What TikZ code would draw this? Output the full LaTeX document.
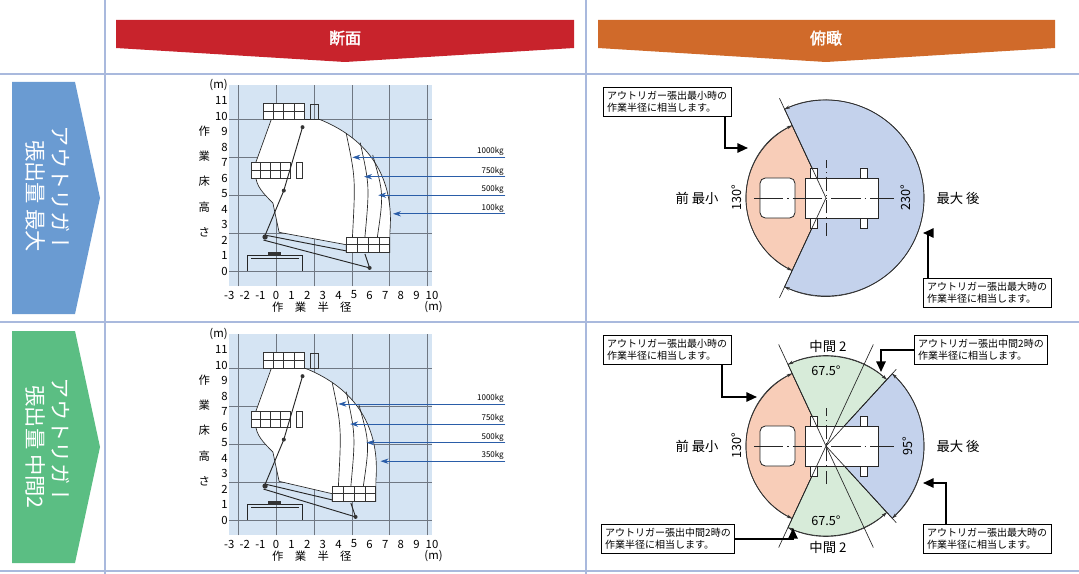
\documentclass[tikz,border=0pt]{standalone}
\usepackage{fontspec}
\setmainfont{Noto Sans CJK JP}
\newfontfamily\jpb[FakeBold=2]{Noto Sans CJK JP}
\newfontfamily\jpv[Vertical=RotatedGlyphs]{Noto Sans CJK JP}
\usetikzlibrary{arrows.meta, positioning}
\definecolor{hdrred}{HTML}{C8232C}
\definecolor{hdrorange}{HTML}{D06A2A}
\definecolor{tabblue}{HTML}{6A9BD2}
\definecolor{tabgreen}{HTML}{5BBE83}
\definecolor{gridbg}{HTML}{D5E4F3}
\definecolor{gridln}{HTML}{6F7782}
\definecolor{loadblue}{HTML}{2A5DA8}
\definecolor{rulec}{HTML}{A9B9DD}
\definecolor{minpink}{HTML}{F8CDB8}
\definecolor{midgreen}{HTML}{D7EBD9}
\definecolor{maxblue}{HTML}{C4D2EC}
\tikzset{
  rule/.style={draw=rulec, line width=0.8pt},
  gridc/.style={draw=gridln, line width=0.5pt},
  thin line/.style={draw=black!85, line width=0.5pt},
  loadarr/.style={draw=loadblue, line width=0.6pt, -{Stealth[length=6pt,width=4pt]}},
  callout/.style={draw=black, line width=0.6pt, fill=white, font=\fontsize{7.5}{9}\selectfont, align=left, inner sep=3pt},
  callarr/.style={draw=black, line width=1.4pt, -{Triangle[length=8pt,width=7pt]}},
  dimarc/.style={draw=black!80, line width=0.5pt, {Stealth[length=4pt,width=2.5pt]}-{Stealth[length=4pt,width=2.5pt]}},
  num/.style={font=\fontsize{8.5}{9}\selectfont, inner sep=1pt},
  kg/.style={font=\fontsize{6}{7}\selectfont, inner sep=1pt, anchor=south east},
}
% lift chart; #1 = shift of the reach on the right side
\newcommand\liftchart[1]{
  \fill[gridbg] (-3,-1) rectangle (10,12);
  \draw[gridc] (-3,-1) grid (10,12);
  \foreach \v in {0,...,11} \node[num, anchor=east] at (-3,\v) {\v};
  \foreach \v in {-3,...,10} \node[num] at (\v,-1.55) {\v};
  \node[num, anchor=east] at (-3,12) {(m)};
  \node[num] at (10.1,-2.35) {(m)};
  \node[num] at (2.3,-2.35) {作\quad 業\quad 半\quad 径};
  \node[num, align=center, font=\fontsize{8.5}{19}\selectfont] at (-4.6,5.8) {作\\業\\床\\高\\さ};
  \filldraw[fill=white, thin line] (0.2,2.5) -- (-0.2,4.4) .. controls (-0.8,5) and (-1.3,5.5) .. (-1.3,6.2)
    -- (-1.3,7) -- (-0.3,9.8) -- ({2.8+#1},9.8) .. controls ({6+#1},8.5) and ({7.6+#1},6) .. ({7.3+#1},2.5)
    -- ({7.3+#1},1.2) -- ({4.5+#1},1.2) -- ({4.5+#1},1.7) -- cycle;
  \draw[thin line] ({4.5+#1},8.9) .. controls ({5.1+#1},6) .. ({4.9+#1},2.2);
  \draw[thin line] ({5.4+#1},8.3) .. controls ({6.0+#1},5.5) .. ({5.7+#1},2.2);
  \draw[thin line] ({6.2+#1},7.5) .. controls ({6.9+#1},5) .. ({6.5+#1},2.2);
  % platforms
  \foreach \px/\py/\pw in {-0.8/9.8/2.6, -1.6/6/2.5, {4.5+#1}/1.2/2.8} {
    \filldraw[fill=white, draw=black!80, line width=0.7pt] (\px,\py) rectangle ++(\pw,1);
    \draw[black!80, line width=0.5pt] (\px,\py+0.5) -- ++(\pw,0);
    \foreach \k in {0.25,0.5,0.75} \draw[black!80, line width=0.5pt] (\px+\k*\pw,\py) -- ++(0,1);
  }
  \draw[black!80, line width=0.6pt] (2.2,9.8) rectangle (2.7,10.8) (1.3,6) rectangle (1.7,7);
  % boom and base
  \draw[black!85, line width=0.7pt] (-0.7,2.3) -- (0.5,5.2) -- (1.7,9.3) (-0.8,2.0) -- ({6+#1},0.2) -- ({5.7+#1},1.1);
  \draw[black!85, line width=0.7pt] (-0.6,2.3) -- ({4.5+#1},1.3);
  \fill[black!80] (-0.7,2.2) circle (2pt) (0.5,5.2) circle (1.5pt) (1.7,9.3) circle (1.5pt) ({6+#1},0.2) circle (1.5pt);
  \draw[black!85, line width=0.7pt] (-1.8,0) -- (-1.8,1) -- (1.7,1) -- (1.7,0) (-1.6,0.8) -- (1.5,0.8);
  \fill[black!80] (-0.5,1) rectangle (0.3,1.25);
}
% plan view vehicle
\newcommand\planvehicle{
  \draw[black!85, line width=0.6pt, fill=white] (-21,-20) rectangle (52,20);
  \draw[black!85, line width=0.6pt, fill=white, rounded corners=4pt] (-66,-20) rectangle (-31,20);
  \draw[black!85, line width=0.6pt, fill=white] (-16,20) rectangle (-9,30) (-16,-20) rectangle (-9,-30)
    (34,20) rectangle (41,30) (34,-20) rectangle (41,-30);
  \draw[black!85, line width=0.5pt, dash pattern=on 22pt off 3pt on 1pt off 3pt] (-72,0) -- (68,0);
  \draw[black!85, line width=0.5pt, dash pattern=on 10pt off 3pt on 1pt off 3pt] (0,-38) -- (0,38);
}
\begin{document}
\begin{tikzpicture}[x=0.75pt, y=-0.75pt]
\useasboundingbox (0,0) rectangle (1079,574);
% table rules
\draw[rule] (105,0) -- (105,574) (586,0) -- (586,574);
\draw[rule] (0,74) -- (1079,74) (0,322) -- (1079,322) (0,571) -- (1079,571);
% headers
\fill[hdrred] (116,20) -- (574,20) -- (574,48) -- (345,62) -- (116,48) -- cycle;
\node[text=white, font=\jpb\fontsize{12}{12}\selectfont] (hdrcut) at (345,38) {断面};
\fill[hdrorange] (598,20) -- (1055,20) -- (1055,48) -- (826,62) -- (598,48) -- cycle;
\node[text=white, font=\jpb\fontsize{12}{12}\selectfont] (hdrplan) at (826,38) {俯瞰};
% row tabs
\fill[tabblue] (12,82) -- (75,82) -- (100,198) -- (75,314) -- (12,314) -- cycle;
\node[text=white, rotate=-90, font=\jpv\fontsize{16}{16}\selectfont] (tabmaxa) at (61,190) {アウトリガー};
\node[text=white, rotate=-90, font=\jpv\fontsize{16}{16}\selectfont] (tabmaxb) at (36,196) {張出量 最大};
\fill[tabgreen] (12,331) -- (75,331) -- (100,447) -- (75,563) -- (12,563) -- cycle;
\node[text=white, rotate=-90, font=\jpv\fontsize{16}{16}\selectfont] (tabmida) at (61,442) {アウトリガー};
\node[text=white, rotate=-90, font=\jpv\fontsize{16}{16}\selectfont] (tabmidb) at (36,447) {張出量 中間2};
% charts
\begin{scope}[shift={(276,271)}, x=11.7pt, y=11.6pt]
  \liftchart{0}
  \foreach \ly/\lx/\lt in {7.35/4.9/1000kg, 6.1/5.65/750kg, 4.9/6.55/500kg, 3.7/7.5/100kg} {
    \coordinate (ls) at (14.7,\ly);
    \coordinate (le) at (\lx,\ly);
    \draw[loadarr] (ls) -- (le);
    \node[kg] at (ls) {\lt};
  }
\end{scope}
\begin{scope}[shift={(276,520)}, x=11.7pt, y=11.6pt]
  \liftchart{-0.9}
  \foreach \ly/\lx/\lt in {7.5/4.0/1000kg, 6.2/4.75/750kg, 5.0/5.8/500kg, 3.8/6.7/350kg} {
    \coordinate (ls) at (14.7,\ly);
    \coordinate (le) at (\lx,\ly);
    \draw[loadarr] (ls) -- (le);
    \node[kg] at (ls) {\lt};
  }
\end{scope}
% plan view, maximum
\begin{scope}[shift={(826,198)}, y=0.75pt]
  \filldraw[fill=minpink, draw=black!85, line width=0.5pt] (0,0) -- (115:80) arc[start angle=115, end angle=245, radius=80] -- cycle;
  \filldraw[fill=maxblue, draw=black!85, line width=0.5pt] (0,0) -- (-115:98) arc[start angle=-115, end angle=115, radius=98] -- cycle;
  \draw[dimarc] (-115:98) arc[start angle=-115, end angle=115, radius=98];
  \draw[dimarc] (115:80) arc[start angle=115, end angle=245, radius=80];
  \planvehicle
  \draw[black!85, line width=0.5pt] (0,0) -- (115:110) (0,0) -- (-115:110);
  \node[rotate=90, font=\fontsize{9.5}{10}\selectfont] (angmax) at (80,0) {230°};
  \node[rotate=90, font=\fontsize{9.5}{10}\selectfont] (angmin) at (-89,0) {130°};
  \node[font=\fontsize{10}{10}\selectfont] (lblfront) at (-129,0) {前\ 最小};
  \node[font=\fontsize{10}{10}\selectfont] (lblrear) at (132,0) {最大\ 後};
  \coordinate (tipmin) at (-78,50);
  \coordinate (tipmax) at (97,-35);
\end{scope}
\node[callout] (boxmin) at (667,102) {アウトリガー張出最小時の\\作業半径に相当します。};
\node[callout] (boxmax) at (987,293) {アウトリガー張出最大時の\\作業半径に相当します。};
\draw[callarr] (boxmin.south -| 725,0) |- (tipmin);
\draw[callarr] (boxmax.north -| 928,0) |- (tipmax);
% plan view, intermediate
\begin{scope}[shift={(826,446)}, y=0.75pt]
  \filldraw[fill=minpink, draw=black!85, line width=0.5pt] (0,0) -- (115:80) arc[start angle=115, end angle=245, radius=80] -- cycle;
  \filldraw[fill=midgreen, draw=black!85, line width=0.5pt] (0,0) -- (47.5:90) arc[start angle=47.5, end angle=115, radius=90] -- cycle;
  \filldraw[fill=midgreen, draw=black!85, line width=0.5pt] (0,0) -- (-115:90) arc[start angle=-115, end angle=-47.5, radius=90] -- cycle;
  \filldraw[fill=maxblue, draw=black!85, line width=0.5pt] (0,0) -- (-47.5:98) arc[start angle=-47.5, end angle=47.5, radius=98] -- cycle;
  \draw[dimarc] (-47.5:98) arc[start angle=-47.5, end angle=47.5, radius=98];
  \draw[dimarc] (47.5:90) arc[start angle=47.5, end angle=115, radius=90];
  \draw[dimarc] (-115:90) arc[start angle=-115, end angle=-47.5, radius=90];
  \draw[dimarc] (115:80) arc[start angle=115, end angle=245, radius=80];
  \planvehicle
  \draw[black!85, line width=0.5pt] (115:112) -- (-65:112) (-115:112) -- (65:112);
  \draw[black!85, line width=0.5pt] (0,0) -- (47.5:104) (0,0) -- (-47.5:104);
  \node[rotate=90, font=\fontsize{9.5}{10}\selectfont] (angrear) at (82,0) {95°};
  \node[rotate=90, font=\fontsize{9.5}{10}\selectfont] (angfront) at (-89,0) {130°};
  \node[font=\fontsize{9.5}{10}\selectfont] (angtop) at (0,75) {67.5°};
  \node[font=\fontsize{9.5}{10}\selectfont] (angbot) at (0,-75) {67.5°};
  \node[font=\fontsize{10}{10}\selectfont] (midtop) at (2,100) {中間 2};
  \node[font=\fontsize{10}{10}\selectfont] (midbot) at (2,-101) {中間 2};
  \node[font=\fontsize{10}{10}\selectfont] (lblfront2) at (-129,0) {前\ 最小};
  \node[font=\fontsize{10}{10}\selectfont] (lblrear2) at (132,0) {最大\ 後};
  \coordinate (tipmin2) at (-69,49);
  \coordinate (tipmidt) at (55,74);
  \coordinate (tipmidb) at (-33,-82);
  \coordinate (tipmax2) at (97,-37);
\end{scope}
\node[callout] (boxmin2) at (667,350) {アウトリガー張出最小時の\\作業半径に相当します。};
\node[callout] (boxmidt) at (981,350) {アウトリガー張出中間2時の\\作業半径に相当します。};
\node[callout] (boxmidb) at (668,539) {アウトリガー張出中間2時の\\作業半径に相当します。};
\node[callout] (boxmax2) at (987,539) {アウトリガー張出最大時の\\作業半径に相当します。};
\draw[callarr] (boxmin2.south -| 722,0) |- (tipmin2);
\draw[callarr] (boxmidt.west) -| (tipmidt);
\draw[callarr] (boxmidb.east) -| (tipmidb);
\draw[callarr] (boxmax2.north -| 946,0) |- (tipmax2);
\end{tikzpicture}
\end{document}
